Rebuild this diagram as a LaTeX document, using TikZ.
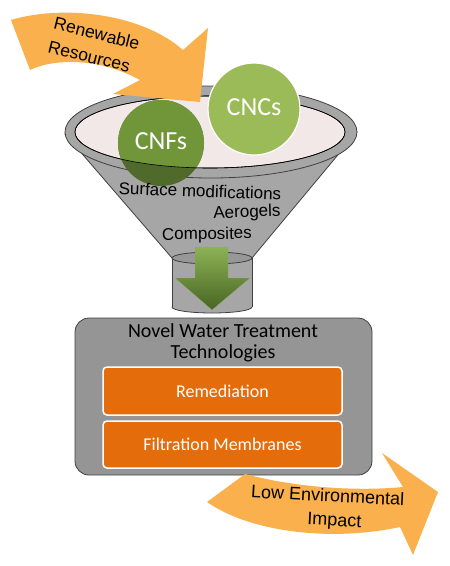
\documentclass[tikz,border=0pt]{standalone}
\usepackage{fontspec}
\setmainfont{Liberation Sans}
\newfontfamily\calibrifont{Carlito}
\definecolor{arroworange}{HTML}{FAB04C}
\definecolor{boxorange}{HTML}{E46C0A}
\definecolor{conegray}{HTML}{A6A6A6}
\definecolor{edgegray}{HTML}{404040}
\definecolor{rimpink}{HTML}{F2E8E8}
\definecolor{cnfgreen}{HTML}{71963A}
\definecolor{cnfdark}{HTML}{4F6A2A}
\definecolor{cncgreen}{HTML}{9BBB59}
\definecolor{boxgray}{HTML}{959595}
\definecolor{arrowtop}{HTML}{8DB255}
\definecolor{arrowbot}{HTML}{476522}
\tikzset{
  x=1pt, y=-1pt,
  rtext/.style={inner sep=0pt, font=\fontsize{17.5}{24}\selectfont},
  ftext/.style={inner sep=0pt, font=\fontsize{17}{20}\selectfont},
  circtext/.style={inner sep=0pt, text=white, font=\calibrifont\fontsize{26}{28}\selectfont},
  graybox/.style={draw=edgegray, fill=boxgray, rounded corners=14pt, line width=0.8pt,
    minimum width=297pt, minimum height=157pt, inner sep=0pt},
  orangebox/.style={draw=white, fill=boxorange, rounded corners=4pt, line width=1.5pt,
    minimum width=239pt, minimum height=47pt, inner sep=0pt, text=white,
    font=\calibrifont\fontsize{18}{20}\selectfont},
  bigarrow/.style={fill=arroworange}
}
\begin{document}
\begin{tikzpicture}
\useasboundingbox (0,0) rectangle (450,566);
% funnel cone
\fill[conegray, draw=edgegray, line width=0.8pt] (65,134) -- (172,258) -- (252,258) -- (357,132) -- cycle;
% outer rim
\fill[conegray, draw=edgegray, line width=0.8pt] (211,132) ellipse [x radius=146, y radius=46];
% inner opening
\fill[rimpink, draw=black, line width=0.6pt] (210,132) ellipse [x radius=135, y radius=36];
% tube
\fill[conegray, draw=edgegray, line width=0.8pt] (212,307) ellipse [x radius=40, y radius=6];
\fill[conegray] (172,258) rectangle (252,307);
\draw[edgegray, line width=0.8pt] (172,258) -- (172,307) (252,258) -- (252,307);
\fill[gray!85!black!70, draw=edgegray, line width=0.8pt] (212,258) ellipse [x radius=40, y radius=6];
% green arrow
\shade[top color=arrowtop, bottom color=arrowbot, draw=cnfdark!60!white, line width=0.4pt]
  (195,247) -- (228,247) -- (228,278) -- (250,278) -- (212,310) -- (175,278) -- (195,278) -- cycle;
% CNFs circle
\fill[cnfdark] (161,143) circle [radius=43];
\begin{scope}
  \clip (161,143) circle [radius=43];
  \fill[cnfgreen] (210,132) ellipse [x radius=135, y radius=36];
  \fill[cnfgreen] (100,80) rectangle (230,132);
\end{scope}
\draw[black, line width=0.6pt] (210,132) ellipse [x radius=135, y radius=36];
\node[circtext] (cnf) at (161,141) {CNFs};
% CNCs circle
\fill[cncgreen, draw=white, line width=1.2pt] (254,109) circle [radius=46];
\node[circtext] (cnc) at (254,107) {CNCs};
% funnel texts
\node[ftext, rotate=-2] (surf) at (200,191) {Surface modifications};
\node[ftext, rotate=2] (aero) at (247,213) {Aerogels};
\node[ftext, rotate=1] (comp) at (207,235) {Composites};
% top curved arrow
\fill[bigarrow] (11,20) .. controls (60,5) and (140,12) .. (183,50) -- (208,28) -- (200,102)
  -- (113,94) -- (140,80) .. controls (100,58) and (55,58) .. (30,70) -- cycle;
\node[rtext, align=left, rotate=-14] (ren) at (94,45) {Renewable\\Resources};
% gray box
\node[graybox] (box) at (223.5,396.5) {};
\node[align=center, inner sep=0pt, font=\calibrifont\fontsize{20}{21}\selectfont] (title) at (223,343) {Novel Water Treatment\\Technologies};
\node[orangebox, minimum height=48pt] (rem) at (222.5,391) {Remediation};
\node[orangebox] (fil) at (222.5,444.5) {Filtration Membranes};
% bottom curved arrow
\fill[bigarrow] (245,474) .. controls (290,486) and (350,492) .. (403,487) -- (382,453) -- (438,492)
  -- (413,555) -- (400,527) .. controls (330,542) and (250,532) .. (207,502) -- cycle;
\node[rtext, align=center, rotate=-3, font=\fontsize{18}{24}\selectfont] (low) at (327,509) {Low Environmental\\\hspace*{16pt}Impact};
\end{tikzpicture}
\end{document}
